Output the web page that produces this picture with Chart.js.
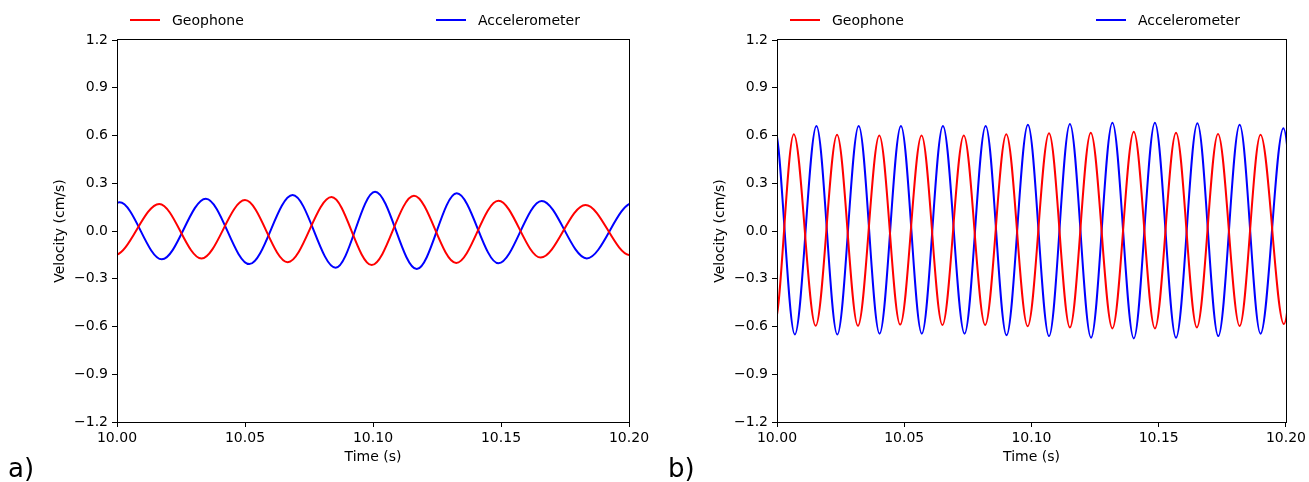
<!DOCTYPE html>
<html>
<head>
<meta charset="utf-8">
<script src="https://cdn.jsdelivr.net/npm/chart.js@4.4.1/dist/chart.umd.min.js"></script>
<style>
    body { margin: 0; background: #fff; }
    .panel { position: absolute; top: 0; height: 482px; }
</style>
</head>
<body>
<div class="panel" style="left:0;width:660px"><canvas id="chartA" width="660" height="482"></canvas></div>
<div class="panel" style="left:660px;width:649px"><canvas id="chartB" width="649" height="482"></canvas></div>
<script>
// tick labels
const xTicks = [10.00, 10.05, 10.10, 10.15, 10.20];
const yTicks = [-1.2, -0.9, -0.6, -0.3, 0.0, 0.3, 0.6, 0.9, 1.2];
const seriesNames = ['Geophone', 'Accelerometer'];

// panel a) - peaks / troughs (two just outside each end so the curve runs off the axes)
const aGeoTime = [9.9820, 9.9990, 10.0165, 10.0330, 10.0500, 10.0667, 10.0838, 10.0995, 10.1160, 10.1325, 10.1490, 10.1655, 10.1830, 10.2005, 10.2170, 10.2335];
const aGeoVel  = [0.160, -0.152, 0.170, -0.173, 0.194, -0.196, 0.213, -0.214, 0.221, -0.201, 0.190, -0.167, 0.164, -0.152, 0.150, -0.150];
const aAccTime = [9.9670, 9.9840, 10.0010, 10.0175, 10.0347, 10.0517, 10.0686, 10.0854, 10.1008, 10.1171, 10.1327, 10.1490, 10.1659, 10.1835, 10.2015, 10.2180, 10.2350];
const aAccVel  = [0.170, -0.170, 0.180, -0.178, 0.203, -0.208, 0.226, -0.231, 0.247, -0.239, 0.237, -0.203, 0.189, -0.172, 0.176, -0.170, 0.170];

// panel b)
const bGeoTime = [9.9905, 9.9990, 10.0066, 10.0152, 10.0236, 10.0318, 10.0402, 10.0484, 10.0568, 10.0650, 10.0734, 10.0818, 10.0901, 10.0985,
                  10.1069, 10.1151, 10.1233, 10.1318, 10.1402, 10.1485, 10.1568, 10.1650, 10.1733, 10.1818, 10.1900, 10.1992, 10.2070, 10.2152];
const bGeoVel  = [0.600, -0.590, 0.608, -0.596, 0.604, -0.596, 0.600, -0.588, 0.600, -0.590, 0.600, -0.590, 0.608, -0.598,
                  0.614, -0.606, 0.617, -0.612, 0.623, -0.612, 0.617, -0.606, 0.610, -0.597, 0.604, -0.585, 0.600, -0.590];
const bAccTime = [9.9905, 9.9990, 10.0070, 10.0155, 10.0237, 10.0321, 10.0403, 10.0487, 10.0569, 10.0652, 10.0737, 10.0820, 10.0902, 10.0986,
                  10.1069, 10.1151, 10.1234, 10.1318, 10.1402, 10.1485, 10.1568, 10.1652, 10.1734, 10.1818, 10.1900, 10.1990, 10.2070, 10.2152];
const bAccVel  = [-0.650, 0.655, -0.650, 0.660, -0.650, 0.660, -0.645, 0.660, -0.645, 0.660, -0.645, 0.660, -0.655, 0.667,
                  -0.660, 0.673, -0.670, 0.680, -0.675, 0.680, -0.670, 0.677, -0.660, 0.667, -0.645, 0.646, -0.650, 0.650];

const FONT = '"DejaVu Sans", sans-serif';
Chart.defaults.font.family = FONT;
Chart.defaults.font.size = 14;
Chart.defaults.color = '#000';

// frame box, legend above the axes and the a)/b) tag
const panelDeco = {
    id: 'panelDeco',
    afterDraw(chart, args, opts) {
        const ctx = chart.ctx;
        const area = chart.chartArea;
        ctx.save();
        ctx.strokeStyle = '#000';
        ctx.lineWidth = 1;
        ctx.strokeRect(Math.round(area.left) + 0.5, Math.round(area.top) - 0.5,
                       Math.round(area.right - area.left), Math.round(area.bottom - area.top) + 1);

        const offsets = [13, 319];
        ctx.font = '14px ' + FONT;
        ctx.textBaseline = 'middle';
        chart.data.datasets.forEach((ds, i) => {
            const x0 = area.left + offsets[i];
            ctx.strokeStyle = ds.borderColor;
            ctx.lineWidth = 2;
            ctx.beginPath();
            ctx.moveTo(x0, 20);
            ctx.lineTo(x0 + 30, 20);
            ctx.stroke();
            ctx.fillStyle = '#000';
            ctx.fillText(ds.label, x0 + 42, 21);
        });

        ctx.font = '26px ' + FONT;
        ctx.textBaseline = 'alphabetic';
        ctx.fillText(opts.tag, 8, 477);
        ctx.restore();
    }
};

function toPoints(t, v) {
    return t.map((x, i) => ({x: x, y: v[i]}));
}

function makePanel(id, tag, geoT, geoV, accT, accV, padRight) {
    const ctx = document.getElementById(id).getContext('2d');
    return new Chart(ctx, {
        type: 'line',
        data: {
            datasets: [{
                label: seriesNames[0],
                data: toPoints(geoT, geoV),
                borderColor: '#ff0000',
                borderWidth: 2,
                pointRadius: 0,
                cubicInterpolationMode: 'monotone'
            }, {
                label: seriesNames[1],
                data: toPoints(accT, accV),
                borderColor: '#0000ff',
                borderWidth: 2,
                pointRadius: 0,
                cubicInterpolationMode: 'monotone'
            }]
        },
        options: {
            responsive: false,
            animation: false,
            events: [],
            layout: { padding: { top: 40, right: padRight, left: 0, bottom: 0 } },
            plugins: {
                legend: { display: false },
                tooltip: { enabled: false },
                panelDeco: { tag: tag }
            },
            scales: {
                x: {
                    type: 'linear',
                    min: 10.0,
                    max: 10.2,
                    afterBuildTicks: s => { s.ticks = xTicks.map(v => ({value: v})); },
                    afterFit: s => { s.height = 60; },
                    ticks: { callback: v => v.toFixed(2), padding: 3, maxRotation: 0, autoSkip: false },
                    grid: { drawOnChartArea: false, tickLength: 5, tickColor: '#000', tickWidth: 1 },
                    border: { display: false },
                    title: { display: true, text: 'Time (s)', padding: { top: 0, bottom: 16 } }
                },
                y: {
                    type: 'linear',
                    min: -1.2,
                    max: 1.2,
                    afterBuildTicks: s => { s.ticks = yTicks.map(v => ({value: v})); },
                    afterFit: s => { s.width = 117; },
                    ticks: { callback: v => v.toFixed(1).replace('-', '\u2212'), padding: 4 },
                    grid: { drawOnChartArea: false, tickLength: 5, tickColor: '#000', tickWidth: 1 },
                    border: { display: false },
                    title: { display: true, text: 'Velocity (cm/s)', padding: { top: 52, bottom: 0 } }
                }
            }
        },
        plugins: [panelDeco]
    });
}

makePanel('chartA', 'a)', aGeoTime, aGeoVel, aAccTime, aAccVel, 31);
makePanel('chartB', 'b)', bGeoTime, bGeoVel, bAccTime, bAccVel, 20);
</script>
</body>
</html>
